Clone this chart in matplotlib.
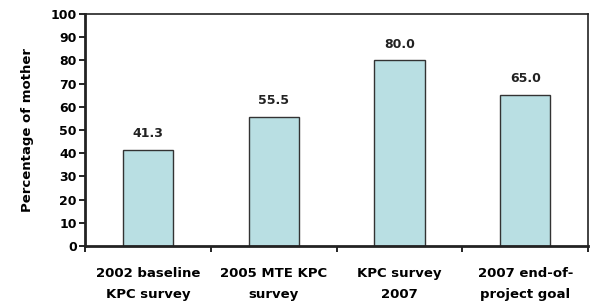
import matplotlib
matplotlib.use("Agg")
import matplotlib.pyplot as plt
import numpy as np

categories = ["2002 baseline\nKPC survey", "2005 MTE KPC\nsurvey",
              "KPC survey\n2007", "2007 end-of-\nproject goal"]
values = [41.3, 55.5, 80.0, 65.0]
yticks = list(range(0, 101, 10))

plt.rcParams['font.family'] = ['DejaVu Sans']
plt.rcParams['font.weight'] = 'bold'

fig = plt.figure(figsize=(5.9, 3.03), dpi=100)
ax = fig.add_axes([0.144, 0.188, 0.853, 0.766])

x = np.arange(len(values))
ax.bar(x, values, width=0.4, color='#B9DFE3', edgecolor='#333333', linewidth=1.0)
for xi, v in zip(x, values):
    ax.annotate("%.1f" % v, (xi, v), xytext=(0, 7), textcoords='offset points',
                ha='center', va='bottom', fontsize=9, fontweight='bold', color='#222222')

ax.set_xlim(-0.5, len(values) - 0.5)
ax.set_ylim(0, 100)
ax.set_yticks(yticks)
ax.tick_params(axis='y', labelsize=9, length=4, width=1.2, direction='out', pad=2)
ax.set_xticks(np.arange(-0.5, len(values), 1.0))
ax.set_xticklabels([])
ax.tick_params(axis='x', length=4, width=1.2, direction='out')
ax.set_xticks(x, minor=True)
ax.set_xticklabels(categories, minor=True, fontsize=9.5, fontweight='bold', linespacing=1.8)
ax.tick_params(axis='x', which='minor', length=0, pad=15)
for lbl in ax.get_yticklabels():
    lbl.set_fontweight('bold')

ax.set_ylabel("Percentage of mother", fontsize=9.5, fontweight='bold', labelpad=12)
ax.spines['left'].set_linewidth(2.0)
ax.spines['bottom'].set_linewidth(2.0)
ax.spines['top'].set_linewidth(1.2)
ax.spines['right'].set_linewidth(1.2)
for s in ax.spines.values():
    s.set_color('#222222')

fig.savefig("out.png", dpi=100)
